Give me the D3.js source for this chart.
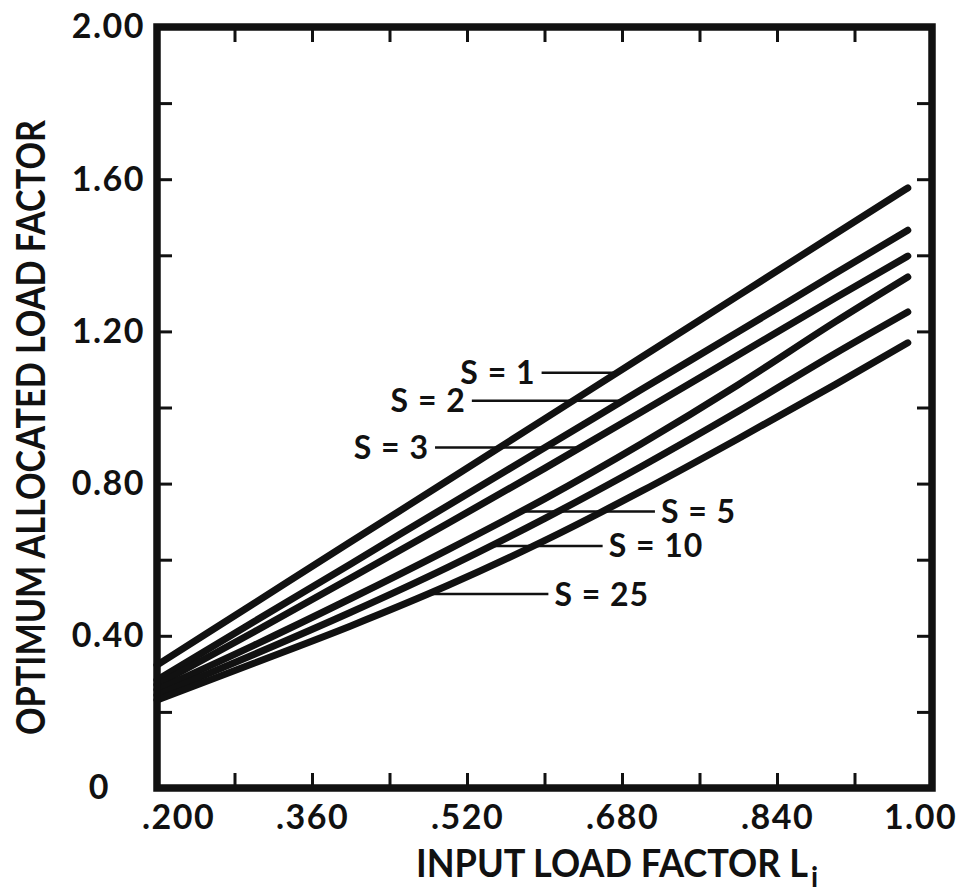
<!DOCTYPE html>
<html>
<head>
<meta charset="utf-8">
<script src="https://cdn.jsdelivr.net/npm/d3@7/dist/d3.min.js"></script>
<style>
  body { margin: 0; background: #fff; }
  svg text { font-family: Lato, "DejaVu Sans", sans-serif; font-weight: bold; fill: #111; }
</style>
</head>
<body>
<svg id="chart" width="969" height="895"></svg>
<script>
// input load factor samples (x axis)
const inputLF = [0.2, 0.3, 0.4, 0.5, 0.6, 0.7, 0.8, 0.9, 0.975];
// bucket sizes
const bucketSizes = [1, 2, 3, 5, 10, 25];
// optimum allocated load factor, one list per bucket size
const optS1 = [0.323, 0.485, 0.647, 0.808, 0.970, 1.132, 1.294, 1.456, 1.577];
const optS2 = [0.284, 0.437, 0.589, 0.742, 0.894, 1.047, 1.199, 1.352, 1.466];
const optS3 = [0.271, 0.410, 0.552, 0.695, 0.840, 0.988, 1.138, 1.288, 1.398];
const optS5 = [0.258, 0.375, 0.498, 0.626, 0.760, 0.905, 1.060, 1.225, 1.343];
const optS10 = [0.244, 0.351, 0.462, 0.580, 0.708, 0.845, 0.990, 1.142, 1.251];
const optS25 = [0.231, 0.328, 0.426, 0.532, 0.650, 0.780, 0.918, 1.060, 1.170];
const series = [optS1, optS2, optS3, optS5, optS10, optS25];

// tick labels
const xTickLabels = ['.200', '.360', '.520', '.680', '.840', '1.00'];
const yTickLabels = ['0', '0.40', '0.80', '1.20', '1.60', '2.00'];

// curve labels: input LF where the leader touches the curve, and where the leader stops
const labelText = bucketSizes.map((s) => `S = ${s}`);
const leaderAnchor = [0.675, 0.681, 0.637, 0.575, 0.544, 0.479];
const leaderEnd = [0.597, 0.525, 0.487, 0.714, 0.660, 0.604];

// set the dimensions and margins of the graph
const W = 969, H = 895;
const margin = { top: 27, right: 37, bottom: 107, left: 157 };

const x = d3.scaleLinear().domain([0.2, 1.0]).range([margin.left, W - margin.right]);
const y = d3.scaleLinear().domain([0, 2]).range([H - margin.bottom, margin.top]);

const svg = d3.select('#chart');

// minor ticks every 0.08 (x) and 0.2 (y), labels on every other one
const xTicks = d3.range(11).map((i) => +(0.2 + i * 0.08).toFixed(2));
const yTicks = d3.range(11).map((i) => +(i * 0.2).toFixed(1));

// curves
const line = d3
  .line()
  .x((d) => x(d[0]))
  .y((d) => y(d[1]))
  .curve(d3.curveMonotoneX);

svg
  .append('g')
  .selectAll('path')
  .data(series)
  .join('path')
  .attr('d', (s) => line(s.map((v, i) => [inputLF[i], v])))
  .attr('fill', 'none')
  .attr('stroke', '#111')
  .attr('stroke-width', 7)
  .attr('stroke-linecap', 'round');

// value of a curve at a given input LF (linear between samples)
const valueAt = (s, lf) => {
  const i = Math.min(d3.bisectRight(inputLF, lf), inputLF.length - 1);
  const t = (lf - inputLF[i - 1]) / (inputLF[i] - inputLF[i - 1]);
  return s[i - 1] + t * (s[i] - s[i - 1]);
};

// leaders + labels
const labels = svg.append('g');
series.forEach((s, k) => {
  const ly = y(valueAt(s, leaderAnchor[k]));
  const left = leaderEnd[k] < leaderAnchor[k];
  labels
    .append('line')
    .attr('x1', x(leaderAnchor[k]))
    .attr('x2', x(leaderEnd[k]))
    .attr('y1', ly)
    .attr('y2', ly)
    .attr('stroke', '#111')
    .attr('stroke-width', 2.5);
  labels
    .append('text')
    .attr('x', x(leaderEnd[k]) + (left ? -6 : 6))
    .attr('y', ly)
    .attr('dy', '0.36em')
    .attr('text-anchor', left ? 'end' : 'start')
    .attr('font-size', 32)
    .attr('letter-spacing', 1)
    .text(labelText[k]);
});

// axes, ticks pointing inward
const styleAxis = (g) => {
  g.select('.domain').remove();
  g.selectAll('.tick line').attr('stroke', '#111').attr('stroke-width', 3);
  g.selectAll('.tick text').attr('font-size', 34).attr('letter-spacing', 1.5).attr('fill', '#111');
};

const gx = svg
  .append('g')
  .attr('transform', `translate(0,${y(0)})`)
  .call(
    d3.axisBottom(x).tickValues(xTicks).tickSizeInner(-15).tickSizeOuter(0).tickPadding(17)
      .tickFormat((d, i) => (i % 2 === 0 ? xTickLabels[i / 2] : ''))
  )
  .call(styleAxis);
gx.selectAll('.tick text').filter((d, i) => i === 0).attr('dx', 21);
gx.selectAll('.tick text').filter((d, i) => i === 10).attr('dx', -12);

svg
  .append('g')
  .attr('transform', `translate(0,${y(2)})`)
  .call(d3.axisTop(x).tickValues(xTicks).tickSizeInner(-15).tickSizeOuter(0).tickFormat(''))
  .call(styleAxis);

const gy = svg
  .append('g')
  .attr('transform', `translate(${x(0.2)},0)`)
  .call(
    d3.axisLeft(y).tickValues(yTicks).tickSizeInner(-15).tickSizeOuter(0).tickPadding(12)
      .tickFormat((d, i) => (i % 2 === 0 ? yTickLabels[i / 2] : ''))
  )
  .call(styleAxis);
gy.selectAll('.tick text').filter((d, i) => i === 0).attr('dx', -35);

svg
  .append('g')
  .attr('transform', `translate(${x(1)},0)`)
  .call(d3.axisRight(y).tickValues(yTicks).tickSizeInner(-15).tickSizeOuter(0).tickFormat(''))
  .call(styleAxis);

// frame
svg
  .append('rect')
  .attr('x', x(0.2))
  .attr('y', y(2))
  .attr('width', x(1) - x(0.2))
  .attr('height', y(0) - y(2))
  .attr('fill', 'none')
  .attr('stroke', '#111')
  .attr('stroke-width', 7.5);

// axis titles
svg
  .append('text')
  .attr('transform', `translate(31,${(y(0) + y(2)) / 2 + 20}) rotate(-90)`)
  .attr('dy', '0.36em')
  .attr('text-anchor', 'middle')
  .attr('font-size', 40)
  .attr('textLength', 615)
  .attr('lengthAdjust', 'spacingAndGlyphs')
  .text('OPTIMUM  ALLOCATED  LOAD  FACTOR');

const xTitle = svg.append('text').attr('x', 416).attr('y', 877).attr('font-size', 38);
xTitle
  .append('tspan')
  .attr('textLength', 392)
  .attr('lengthAdjust', 'spacingAndGlyphs')
  .text('INPUT LOAD FACTOR L');
xTitle.append('tspan').attr('dx', 3).attr('dy', 10).attr('font-size', 28).text('i');
</script>
</body>
</html>
